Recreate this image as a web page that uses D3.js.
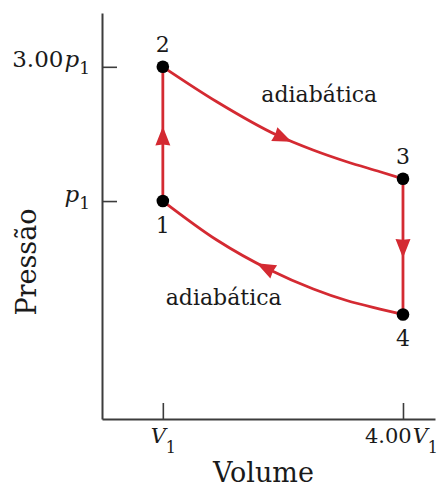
<!DOCTYPE html>
<html><head><meta charset="utf-8">
<script src="https://cdn.jsdelivr.net/npm/d3@7"></script>
<style>
html,body{margin:0;padding:0;background:#fff;}
svg{display:block;}
text{font-family:"DejaVu Serif",serif;fill:#1a1a1a;}
</style></head><body>
<svg id="chart" width="439" height="486"></svg>
<script>
// ---- Data (V in units of V1, p in units of p1) ----
const stateNames = ["1", "2", "3", "4"];
const stateV = [1, 1, 4, 4];
const stateP = [1.00, 3.00, 1.20, 0.395];

// adiabat 2 -> 3
const adiabatUpperV = [1, 1.674, 2.423, 2.876, 3.297, 3.713, 4];
const adiabatUpperP = [3.00, 2.254, 1.716, 1.518, 1.379, 1.271, 1.20];
// adiabat 4 -> 1
const adiabatLowerV = [1, 1.674, 2.339, 2.880, 3.297, 3.713, 4];
const adiabatLowerP = [1.00, 0.727, 0.569, 0.487, 0.443, 0.413, 0.395];

const xTickValues = [1, 4];
const xTickLabels = [["", "V", "1"], ["4.00", "V", "1"]];
const yTickValues = [1, 3];
const yTickLabels = [["", "p", "1"], ["3.00", "p", "1"]];

const processLabels = ["adiabática", "adiabática"];
const xTitle = "Volume";
const yTitle = "Pressão";

// ---- Layout ----
const W = 439, H = 486;
const red = "#d42a32";
const axisColor = "#3c3c3c";
const labelAnchors = [{V: 2.954, p: 2.254}, {V: 1.76, p: 0.427}]; // annotation anchors
const stateLabelPos = ["below", "above", "above", "below"];
const arrowVert = [{from: 0, to: 1, p: 1.69}, {from: 2, to: 3, p: 0.684}];
const arrowCurve = [{curve: "upper", V: 2.49, dir: 1}, {curve: "lower", V: 2.29, dir: -1}];

const svg = d3.select("#chart");
const x = d3.scaleLinear().domain([0.24, 4.40]).range([102, 435]);
const y = d3.scaleLog().domain([0.168, 4.66]).range([419, 13]);

// ---- Axes ----
const yAxis = d3.axisLeft(y).tickValues(yTickValues).tickSizeInner(-15).tickSizeOuter(0)
  .tickPadding(12).tickFormat(() => "");
const xAxis = d3.axisBottom(x).tickValues(xTickValues).tickSizeInner(-16).tickSizeOuter(0)
  .tickFormat(() => "");

const gy = svg.append("g").attr("transform", `translate(${x.range()[0]},0)`).call(yAxis);
const gx = svg.append("g").attr("transform", `translate(0,${y.range()[0]})`).call(xAxis);

[gx, gy].forEach(g => {
  g.attr("font-family", null).attr("font-size", null);
  g.select(".domain").attr("stroke", axisColor).attr("stroke-width", 2);
  g.selectAll(".tick line").attr("stroke", axisColor).attr("stroke-width", 1.6);
});

function richLabel(textSel, parts, subDy, subSize) {
  textSel.text(null);
  if (parts[0]) textSel.append("tspan").text(parts[0]);
  textSel.append("tspan").attr("font-style", "italic").attr("dx", parts[0] ? 1 : 0).text(parts[1]);
  textSel.append("tspan").attr("font-size", subSize).attr("dy", subDy).text(parts[2]);
}

gy.selectAll(".tick text").each(function(d) {
  const i = yTickValues.indexOf(d);
  const t = d3.select(this).attr("dy", 0).attr("font-size", 23).attr("fill", "#1a1a1a")
    .attr("text-anchor", "end");
  richLabel(t, yTickLabels[i], 7, 17);
});
gx.selectAll(".tick text").each(function(d) {
  const i = xTickValues.indexOf(d);
  const t = d3.select(this).attr("y", 24).attr("dy", 0).attr("dx", -2).attr("font-size", 21)
    .attr("fill", "#1a1a1a").attr("text-anchor", "middle");
  richLabel(t, xTickLabels[i], 10, 16);
});

// Axis titles
svg.append("text").attr("transform", `translate(36,${(y.range()[0] + 105) / 2}) rotate(-90)`)
  .attr("text-anchor", "middle").attr("font-size", 27).text(yTitle);
svg.append("text").attr("x", 263.5).attr("y", H - 4.5)
  .attr("text-anchor", "middle").attr("font-size", 27).text(xTitle);

// ---- Cycle ----
const upper = adiabatUpperV.map((v, i) => ({V: v, p: adiabatUpperP[i]}));
const lower = adiabatLowerV.map((v, i) => ({V: v, p: adiabatLowerP[i]}));
const line = d3.line().x(d => x(d.V)).y(d => y(d.p)).curve(d3.curveMonotoneX);

const curves = {};
curves.upper = svg.append("path").datum(upper).attr("d", line)
  .attr("fill", "none").attr("stroke", red).attr("stroke-width", 2.8);
curves.lower = svg.append("path").datum(lower).attr("d", line)
  .attr("fill", "none").attr("stroke", red).attr("stroke-width", 2.8);

[[0, 1], [2, 3]].forEach(([a, b]) => {
  svg.append("line")
    .attr("x1", x(stateV[a])).attr("y1", y(stateP[a]))
    .attr("x2", x(stateV[b])).attr("y2", y(stateP[b]))
    .attr("stroke", red).attr("stroke-width", 2.8);
});

// Arrowheads
const aLen = 19, aWid = 15;
function arrow(cx, cy, angleDeg) {
  svg.append("path")
    .attr("d", `M${aLen * 0.55},0 L${-aLen * 0.45},${-aWid / 2} L${-aLen * 0.40},0 L${-aLen * 0.45},${aWid / 2} Z`)
    .attr("transform", `translate(${cx},${cy}) rotate(${angleDeg})`)
    .attr("fill", red);
}
arrowVert.forEach(a => {
  const up = stateP[a.to] > stateP[a.from];
  arrow(x(stateV[a.from]), y(a.p), up ? -90 : 90);
});
arrowCurve.forEach(a => {
  const node = curves[a.curve].node();
  const total = node.getTotalLength();
  const tx = x(a.V);
  let lo = 0, hi = total;
  for (let k = 0; k < 40; k++) {
    const mid = (lo + hi) / 2;
    if (node.getPointAtLength(mid).x < tx) lo = mid; else hi = mid;
  }
  const L = (lo + hi) / 2;
  const p0 = node.getPointAtLength(Math.max(0, L - 2));
  const p1 = node.getPointAtLength(Math.min(total, L + 2));
  let ang = Math.atan2(p1.y - p0.y, p1.x - p0.x) * 180 / Math.PI;
  if (a.dir < 0) ang += 180;
  const pt = node.getPointAtLength(L);
  arrow(pt.x, pt.y, ang);
});

// State points
const states = stateNames.map((n, i) => ({name: n, V: stateV[i], p: stateP[i], pos: stateLabelPos[i]}));
svg.selectAll("circle.state").data(states).join("circle")
  .attr("class", "state").attr("cx", d => x(d.V)).attr("cy", d => y(d.p)).attr("r", 6.3)
  .attr("fill", "#000");
svg.selectAll("text.state").data(states).join("text")
  .attr("class", "state").attr("x", d => x(d.V))
  .attr("y", d => y(d.p) + (d.pos === "above" ? -14.5 : 31.5))
  .attr("text-anchor", "middle").attr("font-size", 22).text(d => d.name);

// Process labels
svg.selectAll("text.proc").data(processLabels).join("text")
  .attr("class", "proc")
  .attr("x", (d, i) => x(labelAnchors[i].V)).attr("y", (d, i) => y(labelAnchors[i].p))
  .attr("text-anchor", "middle").attr("font-size", 22).text(d => d);
</script>
</body></html>
